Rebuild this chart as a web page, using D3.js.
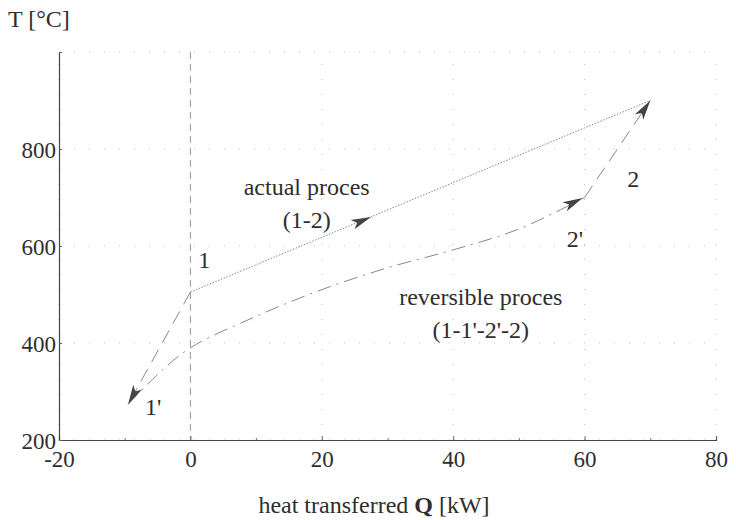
<!DOCTYPE html>
<html>
<head>
<meta charset="utf-8">
<script src="https://cdn.jsdelivr.net/npm/d3@7"></script>
<style>
  body { margin: 0; background: #fff; }
  svg text { font-family: "Liberation Serif", "Times New Roman", serif; fill: #2e2e2e; }
</style>
</head>
<body>
<svg id="chart" width="736" height="520"></svg>
<script>
// Axis ticks
const xTicks = [-20, 0, 20, 40, 60, 80];
const xMinorTicks = [-10, 10, 30, 50, 70];
const yTicks = [200, 400, 600, 800, 1000];
const yTickLabels = ["200", "400", "600", "800", ""];

// Actual process 1 -> 2 (Q in kW, T in °C)
const actualQ = [0, 70];
const actualT = [505, 900];

// Reversible process: 1 -> 1'
const leg11Q = [0, -9.5];
const leg11T = [505, 273];
// 1' -> 2' (heating curve)
const curveQ = [-9.5, -5, 0, 10, 20, 30, 40, 50, 60];
const curveT = [273, 335, 390, 455, 510, 555, 592, 635, 700];
// 2' -> 2
const leg22Q = [60, 70];
const leg22T = [700, 900];

// Point labels
const pointNames = ["1", "1'", "2'", "2"];
const pointQ = [1.2, -6.9, 57.3, 66.5];
const pointT = [555, 252, 598, 722];

const serif = "'Liberation Serif', 'Times New Roman', serif";
const svg = d3.select("#chart");
const x = d3.scaleLinear().domain([-20, 80]).range([59, 716]);
const y = d3.scaleLinear().domain([200, 1000]).range([440, 52]);

const zip = (qs, ts) => qs.map((q, i) => [q, ts[i]]);
const line = d3.line().x(d => x(d[0])).y(d => y(d[1]));
const curve = d3.line().x(d => x(d[0])).y(d => y(d[1])).curve(d3.curveCatmullRom);

// faint dotted grid
const grid = svg.append("g").attr("stroke", "#bbb").attr("stroke-width", 1)
  .attr("stroke-dasharray", "1 14").attr("fill", "none");
yTicks.forEach(v => grid.append("line").attr("x1", x(-20)).attr("x2", x(80))
  .attr("y1", y(v)).attr("y2", y(v)));
xTicks.forEach(v => { if (v !== 0) grid.append("line").attr("x1", x(v)).attr("x2", x(v))
  .attr("y1", y(200)).attr("y2", y(1000)); });

// Q = 0 reference line
svg.append("line").attr("x1", x(0)).attr("x2", x(0)).attr("y1", y(1000)).attr("y2", y(200))
  .attr("stroke", "#999").attr("stroke-width", 1).attr("stroke-dasharray", "7 5");

// axes
const xAxis = d3.axisBottom(x).tickValues(xTicks).tickSize(-4).tickPadding(11).tickFormat(d => String(d));
const xMinor = d3.axisBottom(x).tickValues(xMinorTicks).tickSize(-2).tickFormat("");
const yAxis = d3.axisLeft(y).tickValues(yTicks).tickSize(-3).tickPadding(3)
  .tickFormat((d, i) => yTickLabels[i]);
svg.append("g").attr("transform", `translate(0,${y(200)})`).call(xMinor)
  .call(g => g.select(".domain").remove())
  .selectAll(".tick line").attr("stroke", "#777");
const gx = svg.append("g").attr("transform", `translate(0,${y(200)})`).call(xAxis);
const gy = svg.append("g").attr("transform", `translate(${x(-20)},0)`).call(yAxis);
[gx, gy].forEach(g => {
  g.attr("font-family", serif).attr("font-size", 23);
  g.select(".domain").attr("stroke", "#444").attr("stroke-width", 1.2);
  g.selectAll(".tick line").attr("stroke", "#666");
  g.selectAll("text").attr("fill", "#2e2e2e");
});
gy.selectAll("text").attr("dy", "0.35em");

// process lines
svg.append("path").datum(zip(actualQ, actualT)).attr("d", line)
  .attr("fill", "none").attr("stroke", "#888").attr("stroke-width", 1).attr("stroke-dasharray", "1.5 1.5");
svg.append("path").datum(zip(leg11Q, leg11T)).attr("d", line)
  .attr("fill", "none").attr("stroke", "#888").attr("stroke-width", 1).attr("stroke-dasharray", "14 8");
svg.append("path").datum(zip(curveQ, curveT)).attr("d", curve)
  .attr("fill", "none").attr("stroke", "#888").attr("stroke-width", 1).attr("stroke-dasharray", "14 6 2 6");
svg.append("path").datum(zip(leg22Q, leg22T)).attr("d", line)
  .attr("fill", "none").attr("stroke", "#888").attr("stroke-width", 1).attr("stroke-dasharray", "14 8");

// arrowheads: drawn at a point, pointing along a direction
function arrow(q, t, q0, t0) {
  const px = x(q), py = y(t);
  const ang = Math.atan2(py - y(t0), px - x(q0)) * 180 / Math.PI;
  svg.append("path").attr("d", "M0,0 L-20,-5 L-15,0 L-20,5 Z")
    .attr("transform", `translate(${px},${py}) rotate(${ang})`)
    .attr("fill", "#444");
}
arrow(70, 900, 60, 700);
arrow(-9.5, 273, 0, 505);
arrow(59.7, 699, 50, 635);
arrow(27.5, 660, 0, 505);

// point labels
pointNames.forEach((n, i) => svg.append("text").attr("x", x(pointQ[i])).attr("y", y(pointT[i]))
  .attr("font-size", 24).text(n));

// process labels
const notes = [
  { t: "actual proces", q: 17.7, v: 705 },
  { t: "(1-2)", q: 17.7, v: 637 },
  { t: "reversible proces", q: 44.2, v: 478 },
  { t: "(1-1'-2'-2)", q: 44.2, v: 410 }
];
notes.forEach(n => svg.append("text").attr("x", x(n.q)).attr("y", y(n.v))
  .attr("text-anchor", "middle").attr("font-size", 24).text(n.t));

// axis titles
svg.append("text").attr("x", 8).attr("y", 27).attr("font-size", 24).text("T [°C]");
const xt = svg.append("text").attr("x", 374).attr("y", 513).attr("text-anchor", "middle").attr("font-size", 24);
xt.append("tspan").text("heat transferred ");
xt.append("tspan").attr("font-weight", "bold").text("Q");
xt.append("tspan").text(" [kW]");
</script>
</body>
</html>
